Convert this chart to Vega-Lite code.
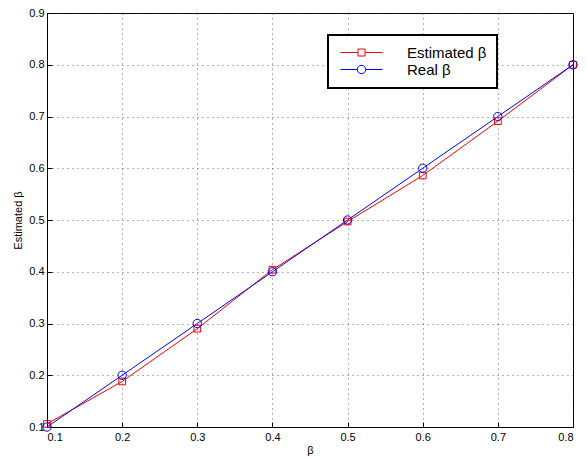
{
  "$schema": "https://vega.github.io/schema/vega-lite/v6.json",
  "width": 526,
  "height": 414,
  "autosize": {"type": "none"},
  "padding": {"left": 47, "top": 13, "right": 14, "bottom": 31},
  "background": "white",
  "config": {
    "font": "Liberation Sans",
    "view": {"stroke": "black", "strokeWidth": 1},
    "axis": {
      "domainColor": "black",
      "tickColor": "black",
      "tickSize": -5,
      "labelColor": "black",
      "labelFontSize": 11,
      "labelFont": "Liberation Sans",
      "titleFont": "Liberation Sans",
      "titleFontSize": 11,
      "titleFontWeight": "normal",
      "titleColor": "black",
      "gridColor": "#333333",
      "gridDash": [1, 4],
      "gridOpacity": 0.75,
      "gridWidth": 1
    },
    "legend": {
      "orient": "none",
      "legendX": 281,
      "legendY": 22,
      "strokeColor": "black",
      "fillColor": "white",
      "padding": 10,
      "labelFontSize": 15,
      "labelFont": "Liberation Sans",
      "labelColor": "black",
      "symbolSize": 196,
      "symbolOffset": 16,
      "labelOffset": 38,
      "rowPadding": 1,
      "symbolStrokeWidth": 1,
      "symbolOpacity": 1
    }
  },
  "data": {
    "values": [
      {"beta": 0.1, "value": 0.106, "series": "Estimated β"},
      {"beta": 0.2, "value": 0.188, "series": "Estimated β"},
      {"beta": 0.3, "value": 0.290, "series": "Estimated β"},
      {"beta": 0.4, "value": 0.404, "series": "Estimated β"},
      {"beta": 0.5, "value": 0.497, "series": "Estimated β"},
      {"beta": 0.6, "value": 0.586, "series": "Estimated β"},
      {"beta": 0.7, "value": 0.691, "series": "Estimated β"},
      {"beta": 0.8, "value": 0.800, "series": "Estimated β"},
      {"beta": 0.1, "value": 0.1, "series": "Real β"},
      {"beta": 0.2, "value": 0.2, "series": "Real β"},
      {"beta": 0.3, "value": 0.3, "series": "Real β"},
      {"beta": 0.4, "value": 0.4, "series": "Real β"},
      {"beta": 0.5, "value": 0.5, "series": "Real β"},
      {"beta": 0.6, "value": 0.6, "series": "Real β"},
      {"beta": 0.7, "value": 0.7, "series": "Real β"},
      {"beta": 0.8, "value": 0.8, "series": "Real β"}
    ]
  },
  "encoding": {
    "x": {
      "field": "beta", "type": "quantitative",
      "scale": {"domain": [0.1, 0.8], "nice": false, "zero": false},
      "axis": {"title": "β", "values": [0.1,0.2,0.3,0.4,0.5,0.6,0.7,0.8], "format": ".1f", "labelPadding": 9, "titlePadding": 2}
    },
    "y": {
      "field": "value", "type": "quantitative",
      "scale": {"domain": [0.1, 0.9], "nice": false, "zero": false},
      "axis": {"title": "Estimated β", "values": [0.1,0.2,0.3,0.4,0.5,0.6,0.7,0.8,0.9], "format": ".1f", "labelPadding": 8, "titlePadding": 5}
    },
    "color": {
      "field": "series", "type": "nominal",
      "scale": {"domain": ["Estimated β", "Real β"], "range": ["#ff0000", "#0000ff"]},
      "legend": {
        "title": null,
        "encode": {"legend": {"update": {"strokeWidth": {"value": 2}}}}
      }
    }
  },
  "layer": [
    {"mark": {"type": "line", "strokeWidth": 1}},
    {
      "transform": [{"filter": "datum.series === 'Estimated β'"}],
      "mark": {"type": "point", "shape": "square", "filled": false, "strokeWidth": 1, "opacity": 1, "size": 45}
    },
    {
      "transform": [{"filter": "datum.series === 'Real β'"}],
      "mark": {"type": "point", "shape": "circle", "filled": false, "strokeWidth": 1, "opacity": 1, "size": 70}
    },
    {
      "mark": {"type": "point", "filled": false, "strokeWidth": 1, "opacity": 0},
      "encoding": {
        "shape": {
          "field": "series", "type": "nominal",
          "scale": {"domain": ["Estimated β", "Real β"], "range": ["M-3,0L-0.5,0M0.5,0L3,0M-0.5,-0.5L0.5,-0.5L0.5,0.5L-0.5,0.5Z", "M-3,0L-0.6,0M0.6,0L3,0M0.6,0A0.6,0.6 0 1,1 -0.6,0A0.6,0.6 0 1,1 0.6,0Z"]},
          "legend": {"title": null}
        }
      }
    }
  ]
}
